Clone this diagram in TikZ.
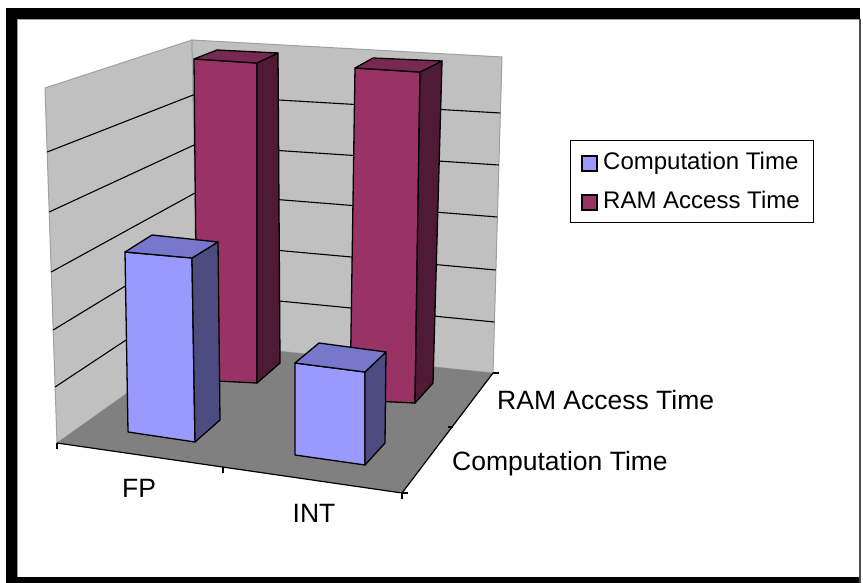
\documentclass[tikz,border=0pt]{standalone}
\usepackage{fontspec}
\setmainfont{Liberation Sans}
\definecolor{wallgray}{HTML}{C0C0C0}
\definecolor{floorgray}{HTML}{808080}
\definecolor{edgegray}{HTML}{A0A0A0}
\definecolor{bluefront}{HTML}{9999FF}
\definecolor{bluetop}{HTML}{7777CC}
\definecolor{blueside}{HTML}{4C4C80}
\definecolor{redfront}{HTML}{993366}
\definecolor{redtop}{HTML}{772952}
\definecolor{redside}{HTML}{4F1A35}
\tikzset{
  wall/.style={fill=wallgray, draw=edgegray, line width=1pt},
  grid/.style={draw=black, line width=1.1pt},
  face/.style={draw=black, line width=1.3pt, line join=round},
  axis/.style={draw=black, line width=1.2pt},
  axlabel/.style={font=\fontsize{26.5}{29}\selectfont, inner sep=0pt},
  leglabel/.style={font=\fontsize{24}{27}\selectfont, inner sep=0pt, anchor=base west},
}
\begin{document}
\begin{tikzpicture}[x=1pt,y=-1pt]
\useasboundingbox (0,0) rectangle (863,583);
\fill[white] (0,0) rectangle (863,583);
% frame
\fill[black] (6,8) rectangle (17,583);
\fill[black] (6,8) rectangle (860,19);
\fill[black] (6,577) rectangle (860,583);
\draw[edgegray, line width=1pt] (17.5,19.5) -- (858.5,19.5);
\draw[edgegray, line width=1pt] (17.5,19.5) -- (17.5,576.5);
\draw[black!70, line width=2pt] (860,19) -- (860,583);
% walls
\path[wall] (45,88) -- (192,40) -- (198,343) -- (57,443) -- cycle;
\path[wall] (192,40) -- (502,57) -- (493,373) -- (198,343) -- cycle;
% grid lines left wall
\draw[grid] (47.2,152) -- (193.1,95);
\draw[grid] (49.2,212) -- (194.1,145);
\draw[grid] (51.2,272) -- (195,193);
\draw[grid] (53.2,330) -- (196,243);
\draw[grid] (55.1,387) -- (197,293);
% grid lines back wall
\draw[grid] (193.1,95) -- (500.4,113);
\draw[grid] (194.1,145) -- (498.9,165);
\draw[grid] (195,193) -- (497.4,217);
\draw[grid] (196,243) -- (495.9,270);
\draw[grid] (197,293) -- (494.5,322);
% floor
\fill[floorgray] (57,443) -- (198,343) -- (493,373) -- (402,493) -- cycle;
\draw[axis] (57,443) -- (402,493) -- (493,373);
\draw[axis] (57,443) -- (57,449);
\draw[axis] (223,467) -- (223,473);
\draw[axis] (402,493) -- (402,499);
\draw[axis] (402,493) -- (408,493);
\draw[axis] (448,427) -- (453,427);
\draw[axis] (493,373) -- (499,373);
% FP RAM bar
\filldraw[face, fill=redfront] (194,59) -- (257,63) -- (257,383) -- (197,380) -- cycle;
\filldraw[face, fill=redside] (257,63) -- (278,53) -- (280,363) -- (257,383) -- cycle;
\filldraw[face, fill=redtop] (194,59) -- (217,50) -- (278,53) -- (257,63) -- cycle;
% INT RAM bar
\filldraw[face, fill=redfront] (355,68) -- (420,72) -- (415,403) -- (350,400) -- cycle;
\filldraw[face, fill=redside] (420,72) -- (442,61) -- (433,383) -- (415,403) -- cycle;
\filldraw[face, fill=redtop] (355,68) -- (373,58) -- (442,61) -- (420,72) -- cycle;
% FP computation bar
\filldraw[face, fill=bluefront] (125,252) -- (192,258) -- (195,442) -- (128,432) -- cycle;
\filldraw[face, fill=blueside] (192,258) -- (218,242) -- (220,420) -- (195,442) -- cycle;
\filldraw[face, fill=bluetop] (125,252) -- (152,235) -- (218,242) -- (192,258) -- cycle;
% INT computation bar
\filldraw[face, fill=bluefront] (295,363) -- (365,372) -- (365,465) -- (295,455) -- cycle;
\filldraw[face, fill=blueside] (365,372) -- (386,352) -- (385,443) -- (365,465) -- cycle;
\filldraw[face, fill=bluetop] (295,363) -- (319,343) -- (386,352) -- (365,372) -- cycle;
% axis labels
\node[axlabel, anchor=base] (fp) at (139,497) {FP};
\node[axlabel, anchor=base] (int) at (314,522) {INT};
\node[axlabel, anchor=base west] (comp) at (452,470) {Computation Time};
\node[axlabel, anchor=base west] (ram) at (497,409) {RAM Access Time};
% legend
\node[draw=black, fill=white, line width=1pt, minimum width=243pt, minimum height=82pt, inner sep=0pt, anchor=north west] (legend) at (570,140) {};
\filldraw[fill=bluefront, draw=black, line width=1.2pt] (582,156) rectangle (597,171);
\filldraw[fill=redfront, draw=black, line width=1.2pt] (582,195) rectangle (597,210);
\node[leglabel] (lcomp) at (603,170) {Computation Time};
\node[leglabel] (lram) at (603,209) {RAM Access Time};
\end{tikzpicture}
\end{document}
